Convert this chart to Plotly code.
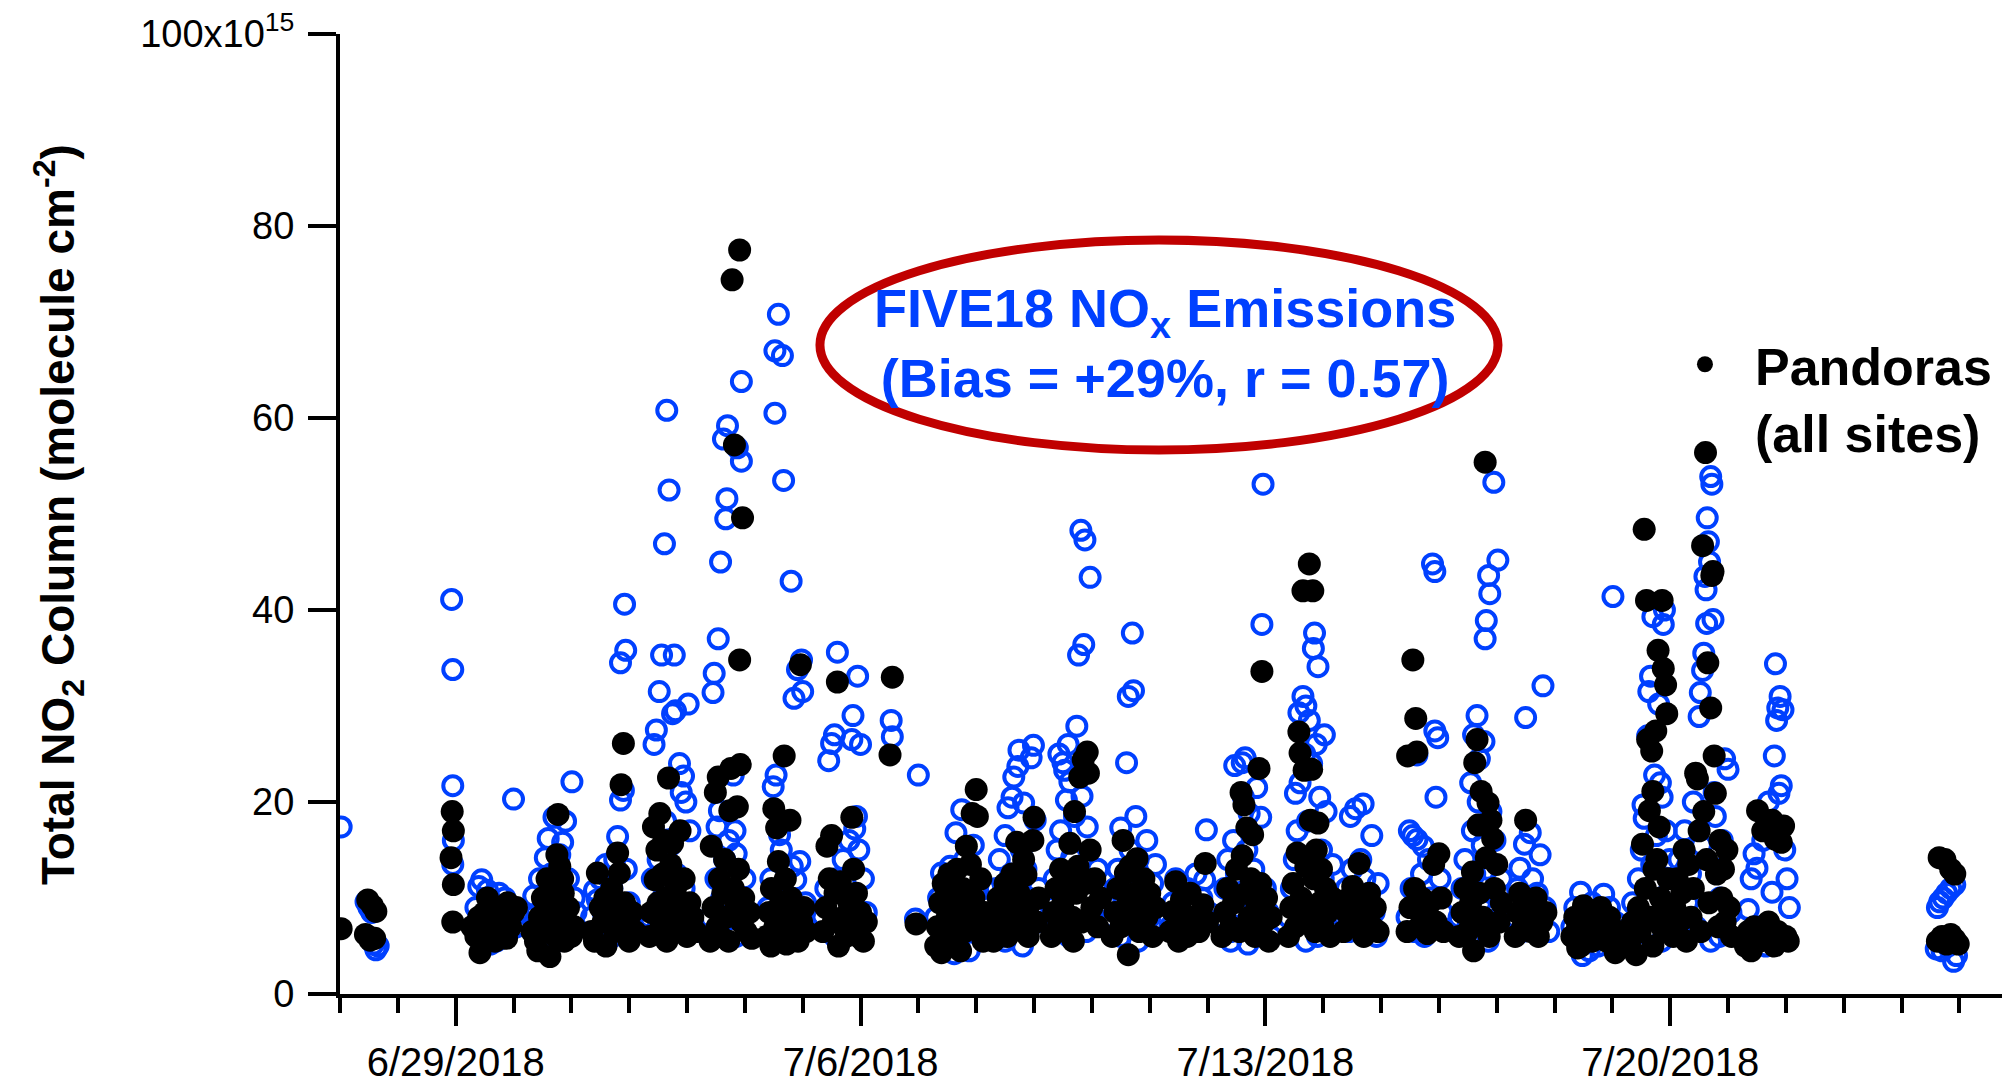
import pandas as pd
import plotly.graph_objects as go

# ---------------- data (day offset since 2018-06-27 00:00, NO2 column in 1e15 molec cm-2)
campaign_start = "2018-06-27"

five18_obs = [
    (0.02, 17.4),
    (0.45, 9.6), (0.50, 9.0), (0.58, 5.2), (0.62, 4.6), (0.66, 5.0), (0.55, 8.5),
    (1.93, 41.1), (1.95, 33.8), (1.95, 21.7), (1.96, 16.0), (1.95, 13.5),
    (2.30, 7.0), (2.35, 9.0), (2.40, 11.2), (2.45, 11.9), (2.55, 10.8), (2.65, 9.5), (2.75, 10.5), (2.85, 10.0),
    (2.95, 8.5), (3.00, 20.3), (3.05, 7.0), (2.50, 5.5), (2.60, 5.2), (2.70, 5.5), (2.80, 6.0), (2.90, 6.5), (3.08, 8.5),
    (3.30, 8.0), (3.35, 10.2), (3.40, 7.2), (3.45, 12.0), (3.50, 9.0), (3.55, 14.2), (3.60, 16.2), (3.65, 12.5),
    (3.70, 18.4), (3.75, 11.0), (3.80, 14.5), (3.85, 15.8), (3.90, 18.0), (3.95, 12.0), (4.01, 22.1), (4.05, 10.0),
    (4.08, 8.5), (3.60, 6.0), (3.75, 5.5), (3.90, 6.5),
    (4.35, 8.0), (4.40, 10.8), (4.45, 9.8), (4.50, 12.0), (4.55, 8.5), (4.60, 13.5), (4.65, 7.0), (4.70, 11.0),
    (4.75, 14.0), (4.80, 16.4), (4.85, 34.5), (4.85, 20.2), (4.90, 21.2), (4.92, 40.6), (4.94, 35.8), (4.95, 13.0),
    (5.00, 9.5), (5.05, 7.5), (5.10, 6.5), (4.72, 6.0),
    (5.35, 8.0), (5.40, 12.0), (5.43, 26.0), (5.47, 27.5), (5.50, 14.0), (5.52, 31.5), (5.56, 35.3), (5.58, 10.0),
    (5.61, 46.9), (5.63, 18.0), (5.65, 60.8), (5.69, 52.5), (5.72, 15.5), (5.75, 29.2), (5.78, 35.3), (5.80, 29.5),
    (5.82, 12.5), (5.85, 9.0), (5.87, 24.0), (5.90, 21.0), (5.94, 22.7), (5.98, 20.0), (6.02, 30.2), (6.05, 17.0),
    (6.10, 7.5), (6.15, 6.5), (5.70, 7.0), (5.95, 11.0), (5.45, 6.5),
    (6.40, 8.0), (6.45, 31.4), (6.47, 33.4), (6.50, 12.0), (6.52, 17.4), (6.54, 37.0), (6.56, 19.1), (6.58, 45.0),
    (6.60, 10.0), (6.63, 57.8), (6.65, 14.0), (6.67, 49.5), (6.69, 51.6), (6.70, 59.2), (6.72, 16.0), (6.75, 7.0),
    (6.80, 22.8), (6.83, 17.0), (6.85, 14.6), (6.87, 56.9), (6.90, 9.0), (6.94, 55.5), (6.94, 63.8), (7.00, 12.0),
    (7.05, 8.5), (6.55, 6.5), (6.85, 6.0),
    (7.40, 9.0), (7.45, 12.0), (7.49, 21.6), (7.52, 60.5), (7.52, 67.0), (7.54, 22.8), (7.58, 70.8), (7.60, 16.6),
    (7.63, 15.0), (7.65, 66.5), (7.67, 53.5), (7.70, 10.0), (7.75, 8.0), (7.80, 43.0), (7.82, 13.3), (7.85, 30.8),
    (7.88, 11.9), (7.91, 33.8), (7.95, 13.8), (7.98, 34.8), (8.00, 31.5), (8.05, 9.5), (8.08, 7.0), (7.60, 6.5), (7.85, 6.0),
    (8.35, 8.0), (8.40, 11.0), (8.45, 24.3), (8.50, 26.1), (8.55, 27.0), (8.58, 12.0), (8.60, 35.6), (8.65, 9.0),
    (8.70, 14.0), (8.75, 7.0), (8.80, 16.0), (8.85, 26.5), (8.87, 29.0), (8.90, 17.2), (8.93, 18.5), (8.95, 33.1),
    (8.97, 15.0), (9.00, 26.0), (9.05, 12.0), (9.10, 8.5), (8.55, 6.0), (8.90, 6.5),
    (9.53, 28.5), (9.55, 26.8), (10.00, 22.8), (9.95, 7.8),
    (10.30, 8.0), (10.35, 10.0), (10.40, 12.6), (10.45, 6.0), (10.50, 9.0), (10.55, 13.3), (10.60, 11.0), (10.65, 16.8),
    (10.70, 5.0), (10.72, 7.5), (10.75, 19.2), (10.80, 14.0), (10.85, 9.5), (10.88, 4.5), (10.90, 12.0), (10.95, 15.5),
    (11.00, 10.5), (11.05, 8.0), (11.10, 6.5), (11.15, 11.0), (10.62, 4.2),
    (11.30, 8.0), (11.35, 11.0), (11.40, 14.0), (11.45, 6.0), (11.50, 16.5), (11.55, 19.4), (11.60, 12.5), (11.62, 20.5),
    (11.65, 22.6), (11.68, 9.0), (11.72, 23.7), (11.74, 25.4), (11.78, 15.0), (11.82, 19.9), (11.86, 13.0), (11.90, 10.0),
    (11.95, 24.6), (11.99, 25.9), (12.02, 18.1), (12.05, 7.5), (12.08, 11.0), (11.50, 5.5), (11.80, 5.0),
    (12.30, 9.0), (12.35, 12.0), (12.40, 15.0), (12.43, 25.0), (12.46, 17.0), (12.50, 24.1), (12.53, 23.3), (12.56, 20.2),
    (12.59, 26.0), (12.62, 22.1), (12.65, 14.2), (12.68, 11.0), (12.70, 18.5), (12.74, 27.9), (12.77, 35.3), (12.81, 48.3),
    (12.83, 20.6), (12.86, 36.4), (12.88, 47.3), (12.92, 17.4), (12.97, 43.4), (13.00, 10.0), (13.05, 7.5), (13.10, 13.0),
    (13.15, 9.0), (12.60, 6.0), (12.90, 6.5),
    (13.35, 8.0), (13.40, 11.0), (13.45, 13.0), (13.50, 17.3), (13.55, 9.5), (13.60, 24.1), (13.63, 31.0), (13.66, 15.0),
    (13.70, 37.6), (13.72, 31.6), (13.76, 18.5), (13.80, 14.0), (13.85, 12.0), (13.90, 10.0), (13.95, 16.0), (14.00, 8.0),
    (14.05, 11.5), (14.10, 13.5), (13.50, 6.0), (13.80, 5.5),
    (14.35, 7.0), (14.40, 9.5), (14.45, 12.0), (14.50, 6.0), (14.55, 10.5), (14.60, 8.0), (14.65, 11.0), (14.70, 6.5),
    (14.75, 9.0), (14.80, 12.5), (14.85, 7.5), (14.90, 10.0), (14.95, 11.9), (14.98, 17.1), (15.02, 8.5),
    (15.25, 8.0), (15.30, 11.0), (15.35, 14.0), (15.40, 6.5), (15.45, 16.0), (15.47, 23.8), (15.50, 12.5), (15.55, 9.0),
    (15.60, 24.1), (15.62, 20.5), (15.65, 24.6), (15.68, 15.0), (15.72, 18.8), (15.75, 10.0), (15.80, 13.0), (15.85, 21.5),
    (15.88, 7.5), (15.92, 18.4), (15.94, 38.5), (15.96, 53.1), (16.00, 11.0), (16.05, 8.5), (16.10, 6.0), (15.70, 5.2), (15.40, 5.5),
    (16.40, 8.0), (16.45, 11.0), (16.50, 14.0), (16.52, 20.9), (16.55, 17.0), (16.58, 29.3), (16.60, 22.0), (16.62, 9.5),
    (16.65, 31.0), (16.68, 25.0), (16.70, 30.0), (16.73, 18.0), (16.76, 28.5), (16.80, 24.0), (16.83, 36.0), (16.85, 37.6),
    (16.88, 26.0), (16.91, 34.1), (16.94, 20.5), (16.97, 15.0), (17.00, 12.0), (17.02, 27.0), (17.05, 19.0), (17.08, 10.0),
    (17.12, 7.5), (17.16, 13.5), (16.70, 5.5), (16.90, 6.0),
    (17.35, 8.0), (17.40, 11.0), (17.45, 6.5), (17.47, 18.5), (17.50, 13.0), (17.56, 19.3), (17.60, 9.5), (17.65, 14.0),
    (17.69, 19.8), (17.72, 12.0), (17.76, 7.5), (17.80, 10.5), (17.84, 16.5), (17.88, 8.5), (17.92, 6.0), (17.95, 11.5),
    (18.45, 8.0), (18.49, 17.0), (18.52, 11.0), (18.55, 16.5), (18.58, 6.5), (18.62, 24.9), (18.62, 16.1), (18.66, 9.0),
    (18.70, 12.5), (18.73, 15.4), (18.78, 7.5), (18.82, 14.0), (18.86, 10.0), (18.89, 44.8), (18.93, 44.0), (18.93, 27.4),
    (18.95, 20.5), (18.98, 26.7), (19.02, 12.0), (19.06, 8.5), (18.75, 6.0),
    (19.35, 8.0), (19.40, 11.0), (19.45, 14.0), (19.50, 7.0), (19.55, 22.0), (19.58, 17.0), (19.60, 27.0), (19.62, 12.5),
    (19.66, 29.0), (19.68, 20.0), (19.70, 24.5), (19.72, 9.5), (19.75, 15.5), (19.78, 26.3), (19.80, 37.0), (19.82, 38.9),
    (19.84, 13.0), (19.86, 43.6), (19.88, 41.7), (19.90, 19.0), (19.92, 10.5), (19.95, 53.3), (19.97, 16.0), (20.02, 45.2),
    (20.05, 8.0), (20.08, 12.0), (19.65, 6.0), (19.85, 5.5),
    (20.32, 8.0), (20.36, 11.0), (20.40, 13.1), (20.44, 6.5), (20.48, 15.6), (20.50, 28.8), (20.54, 9.5), (20.58, 16.8),
    (20.62, 12.0), (20.66, 7.5), (20.70, 10.5), (20.75, 14.5), (20.80, 32.1), (20.84, 9.0), (20.90, 6.5),
    (21.30, 7.0), (21.35, 9.0), (21.40, 5.5), (21.45, 10.6), (21.50, 6.5), (21.55, 8.5), (21.60, 4.5), (21.65, 9.5),
    (21.70, 7.0), (21.75, 5.0), (21.80, 8.0), (21.85, 10.4), (21.90, 6.0), (21.95, 9.0), (22.01, 41.4), (22.05, 7.5),
    (22.10, 5.5), (21.48, 4.0),
    (22.30, 7.0), (22.35, 9.5), (22.40, 5.5), (22.45, 12.0), (22.50, 15.0), (22.53, 19.7), (22.55, 18.3), (22.58, 8.0),
    (22.61, 26.9), (22.63, 31.5), (22.66, 33.1), (22.68, 13.5), (22.70, 39.3), (22.73, 22.8), (22.76, 16.5), (22.80, 30.2),
    (22.83, 22.0), (22.86, 20.5), (22.88, 38.5), (22.90, 40.0), (22.93, 17.0), (22.96, 10.5), (22.99, 14.0), (22.65, 6.0), (22.85, 5.5),
    (23.05, 8.0), (23.10, 11.0), (23.15, 14.0), (23.20, 6.5), (23.25, 17.0), (23.30, 9.5), (23.35, 12.5), (23.40, 20.0),
    (23.45, 7.0), (23.50, 28.9), (23.52, 31.4), (23.54, 15.5), (23.56, 33.7), (23.58, 35.5), (23.60, 43.5), (23.62, 42.1),
    (23.63, 38.6), (23.64, 49.6), (23.66, 47.1), (23.68, 45.0), (23.70, 53.9), (23.72, 53.1), (23.74, 39.0), (23.76, 21.0),
    (23.78, 18.5), (23.82, 13.0), (23.86, 10.0), (23.90, 16.0), (23.94, 24.5), (24.00, 23.4), (24.05, 8.5), (23.70, 5.5), (23.85, 6.0),
    (24.30, 6.0), (24.35, 8.8), (24.40, 12.0), (24.45, 14.6), (24.50, 13.1), (24.55, 7.0), (24.60, 16.0), (24.65, 5.0),
    (24.70, 20.0), (24.76, 10.6), (24.80, 24.8), (24.82, 34.4), (24.84, 28.5), (24.86, 29.8), (24.88, 20.9), (24.90, 31.0),
    (24.92, 21.7), (24.95, 29.6), (24.98, 15.0), (25.02, 12.0), (25.06, 9.0),
    (27.62, 9.0), (27.66, 9.6), (27.72, 10.0), (27.78, 10.5), (27.85, 11.0), (27.92, 11.4), (27.60, 4.7), (27.70, 4.5),
    (27.80, 5.0), (27.90, 3.4), (27.95, 4.0),
]

pandora_obs = [
    (0.02, 6.8),
    (0.48, 9.8), (0.56, 9.2), (0.62, 8.6), (0.44, 6.2), (0.52, 5.6), (0.60, 5.8),
    (1.94, 19.0), (1.96, 17.0), (1.92, 14.2), (1.96, 11.4), (1.95, 7.5),
    (2.28, 7.0), (2.35, 6.0), (2.42, 4.3), (2.45, 5.5), (2.50, 8.5), (2.55, 10.0), (2.60, 7.5), (2.65, 6.5), (2.70, 8.0),
    (2.75, 9.0), (2.80, 6.5), (2.85, 8.0), (2.90, 9.5), (2.95, 7.0), (3.00, 8.5), (3.05, 9.0), (2.40, 8.0), (2.52, 6.0),
    (2.68, 5.5), (2.88, 5.8),
    (3.32, 6.5), (3.38, 5.5), (3.42, 4.5), (3.45, 8.0), (3.50, 10.0), (3.55, 7.0), (3.58, 12.0), (3.63, 3.9), (3.65, 9.5),
    (3.70, 11.5), (3.72, 6.0), (3.77, 18.7), (3.80, 13.3), (3.83, 8.5), (3.86, 10.5), (3.88, 5.5), (3.92, 7.5), (3.95, 9.0),
    (4.00, 6.0), (4.05, 7.0), (3.68, 8.0), (3.75, 14.5), (3.85, 12.0),
    (4.35, 6.5), (4.40, 5.5), (4.45, 12.6), (4.50, 9.0), (4.55, 7.5), (4.60, 5.0), (4.65, 8.0), (4.70, 11.0), (4.75, 6.5),
    (4.80, 14.7), (4.83, 12.6), (4.86, 21.8), (4.90, 26.1), (4.92, 9.5), (4.95, 7.0), (5.00, 5.5), (5.05, 8.5), (5.10, 6.5),
    (4.58, 10.0), (4.78, 9.0),
    (5.35, 6.0), (5.38, 8.5), (5.42, 17.4), (5.45, 11.9), (5.48, 15.0), (5.50, 9.5), (5.53, 18.8), (5.55, 7.0), (5.58, 12.5),
    (5.60, 16.0), (5.63, 10.0), (5.65, 5.5), (5.68, 22.5), (5.70, 8.0), (5.72, 13.5), (5.75, 15.7), (5.78, 6.5), (5.80, 11.0),
    (5.85, 9.0), (5.88, 17.0), (5.92, 7.5), (5.95, 12.0), (6.00, 6.0), (6.05, 9.5), (6.10, 8.0), (6.15, 6.5),
    (6.40, 5.5), (6.42, 15.4), (6.45, 9.0), (6.49, 21.0), (6.52, 7.0), (6.54, 22.6), (6.56, 12.0), (6.58, 6.0), (6.62, 10.5),
    (6.65, 14.0), (6.68, 8.0), (6.72, 5.5), (6.74, 19.1), (6.76, 23.5), (6.78, 74.4), (6.80, 11.0), (6.82, 57.2), (6.84, 9.5),
    (6.87, 19.5), (6.89, 13.0), (6.91, 77.5), (6.91, 34.8), (6.92, 23.9), (6.94, 7.5), (6.96, 49.6), (6.98, 10.0), (7.02, 6.5),
    (7.08, 8.5), (7.12, 5.8),
    (7.38, 6.0), (7.42, 8.5), (7.46, 11.0), (7.50, 19.3), (7.52, 7.0), (7.55, 17.3), (7.58, 13.8), (7.62, 9.5), (7.65, 5.5),
    (7.68, 24.8), (7.70, 12.0), (7.74, 7.5), (7.78, 18.1), (7.80, 10.0), (7.84, 6.0), (7.88, 8.5), (7.92, 5.5), (7.96, 34.3),
    (7.98, 7.5), (8.02, 9.0), (8.06, 6.5), (7.45, 5.0), (7.72, 5.2),
    (8.35, 6.5), (8.40, 9.0), (8.42, 15.4), (8.46, 12.0), (8.50, 16.5), (8.53, 7.5), (8.56, 10.5), (8.60, 32.5), (8.62, 5.0),
    (8.65, 11.7), (8.70, 8.0), (8.75, 6.0), (8.80, 9.5), (8.85, 18.4), (8.88, 13.0), (8.90, 7.0), (8.93, 10.5), (8.96, 6.0),
    (9.00, 8.5), (9.05, 5.5), (9.10, 7.5),
    (9.55, 33.0), (9.51, 24.9), (9.96, 7.3),
    (10.30, 5.0), (10.33, 7.0), (10.37, 9.5), (10.40, 4.3), (10.43, 11.5), (10.47, 6.0), (10.50, 8.0), (10.53, 12.5),
    (10.57, 5.0), (10.60, 10.0), (10.63, 7.0), (10.67, 13.0), (10.70, 9.0), (10.73, 4.5), (10.77, 11.0), (10.80, 6.5),
    (10.83, 15.4), (10.86, 8.5), (10.90, 13.5), (10.93, 18.8), (10.96, 10.0), (11.00, 21.3), (11.02, 18.5), (11.05, 7.0),
    (11.08, 12.0), (11.12, 5.5), (11.15, 8.5),
    (11.30, 5.5), (11.34, 7.5), (11.38, 10.0), (11.42, 6.5), (11.46, 8.5), (11.50, 11.5), (11.54, 6.0), (11.58, 9.0),
    (11.62, 12.5), (11.66, 7.0), (11.70, 15.8), (11.74, 10.5), (11.78, 8.0), (11.82, 14.0), (11.86, 12.4), (11.90, 6.0),
    (11.94, 9.5), (11.98, 16.0), (12.00, 18.4), (12.04, 7.5), (12.08, 10.0),
    (12.30, 6.0), (12.34, 8.5), (12.38, 11.0), (12.42, 7.0), (12.46, 13.0), (12.50, 9.5), (12.54, 6.5), (12.58, 12.0),
    (12.62, 15.7), (12.66, 8.0), (12.70, 19.0), (12.73, 10.5), (12.76, 13.3), (12.79, 22.6), (12.82, 7.5), (12.85, 24.4),
    (12.88, 11.5), (12.92, 25.2), (12.94, 23.0), (12.97, 15.0), (13.00, 9.0), (13.05, 12.0), (13.10, 7.0), (13.15, 10.0),
    (12.68, 5.5),
    (13.35, 6.0), (13.40, 8.5), (13.45, 11.0), (13.50, 7.0), (13.54, 16.0), (13.58, 12.6), (13.62, 9.5), (13.63, 4.1),
    (13.66, 13.3), (13.70, 7.5), (13.74, 10.5), (13.78, 14.1), (13.82, 6.5), (13.86, 9.0), (13.90, 12.0), (13.95, 8.0),
    (14.00, 10.5), (14.05, 6.0), (14.10, 9.0),
    (14.35, 6.5), (14.40, 8.6), (14.45, 11.7), (14.50, 5.5), (14.55, 9.8), (14.60, 7.0), (14.65, 6.0), (14.70, 10.5),
    (14.75, 8.0), (14.85, 6.5), (14.92, 9.3), (14.96, 13.6), (15.00, 7.5),
    (15.25, 6.0), (15.30, 8.5), (15.35, 11.0), (15.40, 7.0), (15.45, 9.5), (15.50, 13.0), (15.55, 6.5), (15.58, 21.0),
    (15.60, 14.4), (15.63, 19.7), (15.66, 10.5), (15.68, 17.3), (15.72, 8.0), (15.75, 12.0), (15.78, 16.6), (15.82, 6.0),
    (15.85, 9.5), (15.89, 23.5), (15.92, 11.5), (15.94, 33.6), (15.98, 7.5), (16.02, 10.0), (16.06, 5.5), (16.10, 8.0),
    (16.40, 6.0), (16.44, 9.0), (16.48, 11.5), (16.52, 7.0), (16.55, 14.7), (16.58, 27.3), (16.60, 25.1), (16.62, 10.0),
    (16.65, 42.0), (16.67, 23.3), (16.70, 13.3), (16.72, 8.0), (16.76, 44.8), (16.78, 18.1), (16.80, 23.4), (16.82, 42.0),
    (16.84, 12.0), (16.86, 6.5), (16.88, 15.0), (16.91, 17.8), (16.94, 9.5), (16.97, 13.0), (17.00, 7.0), (17.04, 11.0),
    (17.08, 8.5), (17.12, 6.0), (17.16, 10.0),
    (17.35, 6.5), (17.40, 8.5), (17.45, 10.0), (17.51, 11.2), (17.55, 7.0), (17.62, 13.6), (17.66, 9.0), (17.70, 6.0),
    (17.75, 8.0), (17.80, 10.5), (17.85, 7.0), (17.90, 9.0), (17.95, 6.5),
    (18.45, 6.5), (18.46, 24.8), (18.50, 9.0), (18.55, 34.8), (18.58, 11.0), (18.60, 28.7), (18.62, 25.2), (18.66, 7.0),
    (18.70, 10.0), (18.75, 8.0), (18.80, 6.3), (18.85, 9.5), (18.91, 13.5), (18.95, 7.5), (19.00, 14.6), (19.04, 10.0), (19.08, 6.5),
    (19.35, 6.0), (19.40, 8.5), (19.45, 11.0), (19.50, 6.5), (19.55, 9.5), (19.58, 12.7), (19.60, 4.5), (19.62, 24.1),
    (19.64, 7.5), (19.66, 26.5), (19.68, 17.6), (19.70, 10.5), (19.73, 21.1), (19.76, 8.0), (19.80, 55.4), (19.82, 14.2),
    (19.85, 19.9), (19.87, 6.0), (19.90, 18.1), (19.93, 16.2), (19.96, 11.0), (20.00, 13.5), (20.04, 7.5), (20.08, 9.5),
    (20.32, 6.0), (20.36, 8.5), (20.40, 10.5), (20.45, 7.0), (20.50, 18.1), (20.54, 9.0), (20.58, 6.5), (20.62, 8.0),
    (20.68, 10.0), (20.72, 6.0), (20.78, 7.5), (20.85, 8.5),
    (21.30, 6.0), (21.35, 8.0), (21.40, 7.0), (21.45, 5.0), (21.50, 9.2), (21.55, 6.5), (21.60, 8.5), (21.65, 5.5),
    (21.70, 7.5), (21.75, 6.0), (21.80, 9.0), (21.85, 7.0), (21.90, 5.5), (21.95, 8.0), (22.05, 4.3), (22.10, 6.5), (21.40, 4.8),
    (22.30, 5.5), (22.35, 7.5), (22.41, 4.1), (22.45, 9.0), (22.48, 6.5), (22.52, 15.6), (22.55, 48.4), (22.57, 11.0),
    (22.59, 41.0), (22.61, 26.5), (22.64, 19.1), (22.66, 8.0), (22.68, 25.3), (22.70, 21.1), (22.72, 13.0), (22.75, 27.4),
    (22.77, 14.0), (22.79, 35.8), (22.81, 17.4), (22.83, 10.0), (22.86, 41.0), (22.88, 33.9), (22.90, 6.5), (22.92, 32.2),
    (22.94, 29.2), (22.96, 12.0), (22.98, 9.0), (22.70, 5.0), (22.85, 7.0),
    (23.05, 6.0), (23.08, 9.0), (23.12, 12.0), (23.16, 7.5), (23.20, 10.5), (23.24, 15.0), (23.28, 5.5), (23.32, 13.5),
    (23.36, 8.0), (23.40, 11.0), (23.44, 23.0), (23.47, 22.4), (23.50, 17.0), (23.53, 6.5), (23.56, 46.7), (23.58, 19.0),
    (23.61, 56.4), (23.63, 14.0), (23.65, 34.5), (23.67, 9.5), (23.70, 29.8), (23.72, 43.6), (23.74, 44.0), (23.76, 24.8),
    (23.78, 20.9), (23.80, 12.5), (23.83, 7.0), (23.86, 16.0), (23.89, 10.0), (23.92, 13.0), (23.95, 7.5), (23.98, 15.0),
    (24.02, 9.0), (24.06, 6.0),
    (24.30, 5.0), (24.35, 6.5), (24.40, 4.5), (24.45, 7.0), (24.51, 19.1), (24.55, 5.5), (24.60, 17.0), (24.65, 6.0),
    (24.70, 7.5), (24.76, 18.1), (24.80, 5.0), (24.82, 16.1), (24.86, 6.5), (24.92, 15.8), (24.96, 17.5), (25.00, 6.0), (25.04, 5.5),
    (27.65, 14.2), (27.75, 14.0), (27.85, 13.0), (27.92, 12.5), (27.62, 5.5), (27.70, 6.0), (27.78, 5.2), (27.85, 6.2),
    (27.92, 5.7), (27.98, 5.2),
]

y_tick_values = [0, 20, 40, 60, 80, 100]
y_tick_labels = ["0", "20", "40", "60", "80", "100x10<sup>15</sup>"]

# ---------------- build
t0 = pd.Timestamp(campaign_start)
five18_day, five18_no2 = zip(*five18_obs)
pandora_day, pandora_no2 = zip(*pandora_obs)
five18_time = [t0 + pd.to_timedelta(d, unit="D") for d in five18_day]
pandora_time = [t0 + pd.to_timedelta(d, unit="D") for d in pandora_day]

BLUE = "#0040ff"
FONT = "Arial, Liberation Sans, sans-serif"

fig = go.Figure()
fig.add_trace(go.Scatter(
    x=five18_time, y=five18_no2, mode="markers", showlegend=False,
    marker=dict(symbol="circle-open", size=19, color=BLUE, line=dict(width=4, color=BLUE)),
))
fig.add_trace(go.Scatter(
    x=pandora_time, y=pandora_no2, mode="markers", name="Pandoras<br>(all sites)",
    marker=dict(symbol="circle", size=23, color="black"),
))

fig.update_layout(
    width=2002, height=1073,
    margin=dict(l=332, r=0, t=26, b=87, autoexpand=False),
    paper_bgcolor="white", plot_bgcolor="white",
    font=dict(family=FONT, color="black"),
    showlegend=True,
    legend=dict(
        x=0.7874, y=0.698, xanchor="left", yanchor="top",
        font=dict(size=52, family=FONT, color="black", weight="bold"),
        bgcolor="rgba(0,0,0,0)", valign="top", itemsizing="trace", itemwidth=90,
    ),
    xaxis=dict(
        range=[t0, t0 + pd.Timedelta(hours=28 * 24 + 21)],
        automargin=False, ticklabeloverflow="allow",
        showgrid=False, zeroline=False,
        showline=True, linecolor="black", linewidth=4,
        ticks="outside", ticklen=28, tickwidth=4, tickcolor="black",
        tick0="2018-06-29", dtick=7 * 86400000, tickformat="%-m/%-d/%Y",
        tickfont=dict(size=40, family=FONT, color="black"),
        ticklabelstandoff=2,
        minor=dict(ticks="outside", ticklen=15, tickwidth=4, tickcolor="black",
                   tick0=campaign_start, dtick=86400000, showgrid=False),
    ),
    yaxis=dict(
        range=[0, 100], automargin=False, ticklabeloverflow="allow",
        showgrid=False, zeroline=False,
        showline=True, linecolor="black", linewidth=4,
        ticks="outside", ticklen=28, tickwidth=4, tickcolor="black",
        tickvals=y_tick_values, ticktext=y_tick_labels,
        tickfont=dict(size=38, family=FONT, color="black"),
        ticklabelstandoff=6,
    ),
    shapes=[dict(
        type="circle", xref="paper", yref="paper",
        x0=0.2874, x1=0.6934, y0=0.5667, y1=0.7854,
        line=dict(color="#c00000", width=9),
    )],
    annotations=[
        dict(
            text="FIVE18 NO<sub>x</sub> Emissions<br>(Bias = +29%, r = 0.57)",
            xref="paper", yref="paper", x=0.494, y=0.678,
            xanchor="center", yanchor="middle", showarrow=False,
            font=dict(size=54, family=FONT, color=BLUE, weight="bold"),
        ),
        dict(
            text="Total NO<sub>2</sub> Column (molecule cm<sup>-2</sup>)",
            xref="paper", yref="paper", x=-0.1689, y=0.5,
            xanchor="center", yanchor="middle", textangle=-90, showarrow=False,
            font=dict(size=46, family=FONT, color="black", weight="bold"),
        ),
    ],
)

fig.write_html("out.html")
